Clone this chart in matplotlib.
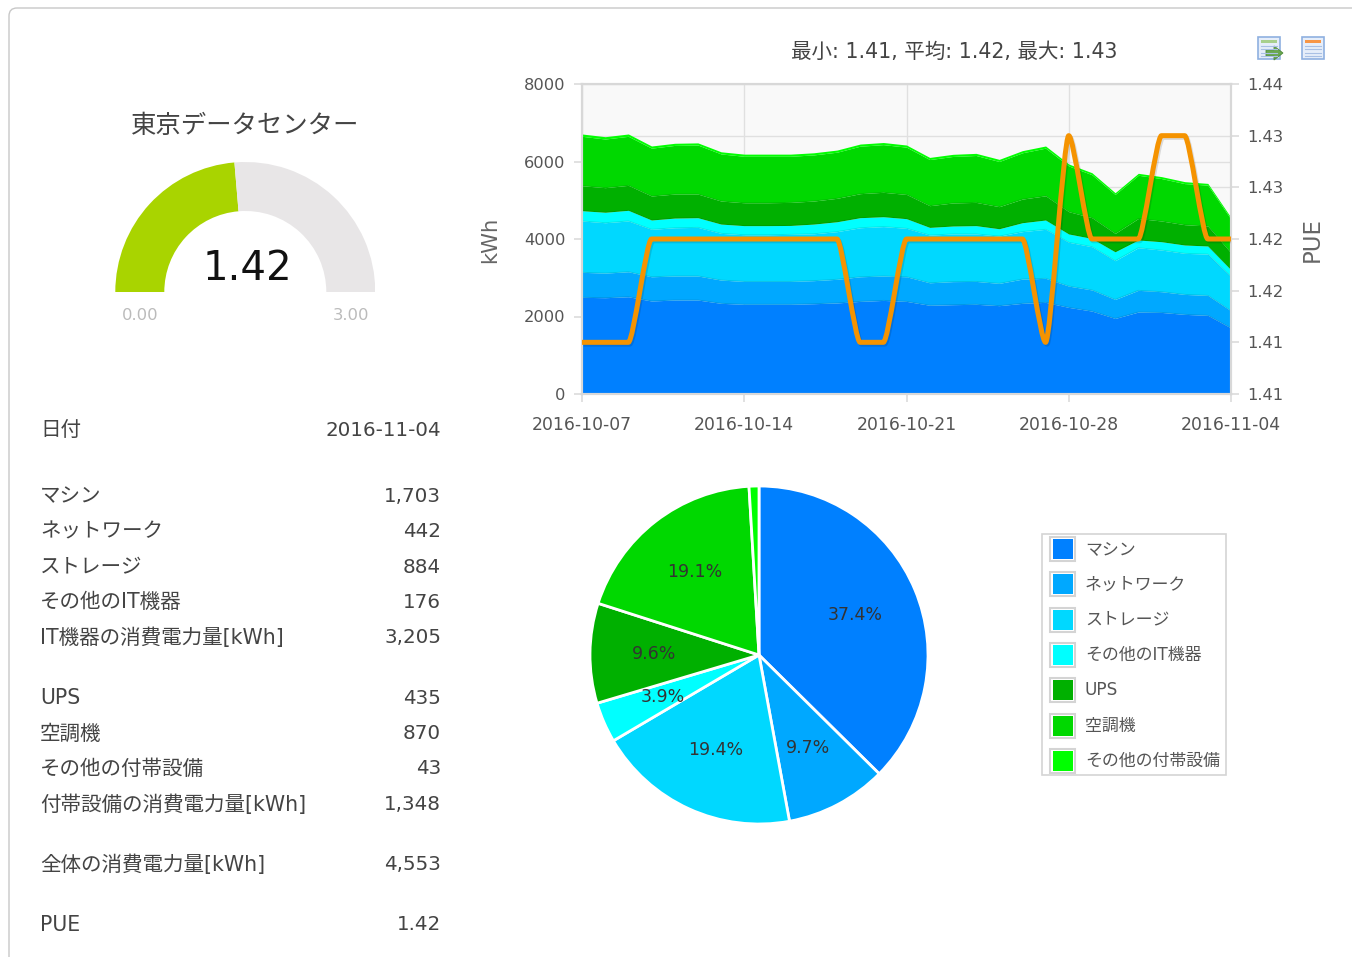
import numpy as np
import matplotlib

matplotlib.use("Agg")
import matplotlib.pyplot as plt
import matplotlib.patheffects as pe
from matplotlib.path import Path
from matplotlib.patches import FancyBboxPatch, PathPatch, Rectangle, Wedge, Polygon

plt.rcParams["font.family"] = ["DejaVu Sans", "Noto Sans CJK JP"]

# stacked top edge of every band, kWh
machine_top = [2495, 2485, 2510, 2400, 2425, 2425, 2340, 2315, 2315, 2315, 2330, 2350, 2390, 2415, 2390,
               2290, 2305, 2315, 2280, 2340, 2365, 2235, 2140, 1950, 2115, 2105, 2055, 2030, 1703]
network_top = [3140, 3120, 3155, 3025, 3045, 3045, 2940, 2905, 2905, 2905, 2925, 2960, 3025, 3045, 3025,
               2870, 2900, 2905, 2855, 2965, 2985, 2785, 2685, 2440, 2675, 2640, 2570, 2545, 2145]
storage_top = [4465, 4420, 4465, 4250, 4290, 4300, 4145, 4110, 4110, 4120, 4135, 4190, 4290, 4320, 4275,
               4100, 4130, 4130, 4075, 4190, 4250, 3915, 3800, 3440, 3775, 3715, 3630, 3610, 3029]
other_it_top = [4730, 4690, 4740, 4490, 4540, 4550, 4385, 4345, 4345, 4350, 4385, 4445, 4550, 4575, 4525,
                4300, 4335, 4345, 4265, 4420, 4490, 4130, 4015, 3670, 3975, 3930, 3845, 3820, 3205]
ups_top = [5375, 5325, 5385, 5110, 5160, 5160, 4980, 4935, 4935, 4945, 4980, 5050, 5170, 5205, 5150,
           4860, 4930, 4945, 4835, 5030, 5115, 4705, 4550, 4145, 4530, 4465, 4370, 4335, 3640]
aircon_top = [6650, 6580, 6650, 6345, 6415, 6425, 6195, 6135, 6135, 6135, 6170, 6240, 6395, 6435, 6370,
              6050, 6130, 6155, 6000, 6225, 6345, 5885, 5660, 5150, 5645, 5560, 5430, 5390, 4510]
total_top = [6710, 6640, 6710, 6400, 6470, 6480, 6250, 6190, 6190, 6190, 6225, 6295, 6450, 6490, 6425,
             6105, 6185, 6210, 6055, 6280, 6400, 5935, 5710, 5195, 5695, 5610, 5480, 5435, 4553]
pue = [1.41, 1.41, 1.41, 1.42, 1.42, 1.42, 1.42, 1.42, 1.42, 1.42, 1.42, 1.42, 1.41, 1.41, 1.42,
       1.42, 1.42, 1.42, 1.42, 1.42, 1.41, 1.43, 1.42, 1.42, 1.42, 1.43, 1.43, 1.42, 1.42]

date_labels = ["2016-10-07", "2016-10-14", "2016-10-21", "2016-10-28", "2016-11-04"]
kwh_ticks = [0, 2000, 4000, 6000, 8000]
pue_ticks = [1.405, 1.41, 1.415, 1.42, 1.425, 1.43, 1.435]
pue_tick_labels = ["1.41", "1.41", "1.42", "1.42", "1.43", "1.43", "1.44"]

series_names = ["マシン", "ネットワーク", "ストレージ", "その他のIT機器", "UPS", "空調機", "その他の付帯設備"]
series_values = [1703, 442, 884, 176, 435, 870, 43]
series_colors = ["#0080ff", "#00a8ff", "#00d8ff", "#00ffff", "#00b000", "#00d800", "#00ff00"]

table_labels = ["日付", "マシン", "ネットワーク", "ストレージ", "その他のIT機器", "IT機器の消費電力量[kWh]",
                "UPS", "空調機", "その他の付帯設備", "付帯設備の消費電力量[kWh]", "全体の消費電力量[kWh]", "PUE"]
table_values = ["2016-11-04", "1,703", "442", "884", "176", "3,205", "435", "870", "43", "1,348", "4,553", "1.42"]
table_y = [430.5, 496.5, 531.5, 567.5, 602.5, 637.5, 698, 733.5, 768.5, 804.5, 864.5, 925]

gauge_value = 1.42
gauge_min = 0.0
gauge_max = 3.0

W, H = 1352, 957


def px_axes(x0, y0, x1, y1):
    return fig.add_axes([x0 / W, 1 - y1 / H, (x1 - x0) / W, (y1 - y0) / H])


fig = plt.figure(figsize=(W / 100, H / 100), dpi=100, facecolor="white")

# page furniture in pixel coordinates
page = fig.add_axes([0, 0, 1, 1])
page.set_xlim(0, W)
page.set_ylim(H, 0)
page.axis("off")
page.add_patch(FancyBboxPatch((9, 8), 1500, 1100, boxstyle="round,pad=0,rounding_size=8",
                              fc="white", ec="#c8c8c8", lw=1))

page.text(245, 126, "東京データセンター", fontsize=18.3, color="#444444", ha="center", va="center")
page.text(247, 269, f"{gauge_value:.2f}", fontsize=29, color="#111111", ha="center", va="center")
page.text(140, 316, f"{gauge_min:.2f}", fontsize=11.8, color="#bbbbbb", ha="center", va="center")
page.text(351, 316, f"{gauge_max:.2f}", fontsize=11.8, color="#bbbbbb", ha="center", va="center")

for lab, val, y in zip(table_labels, table_values, table_y):
    page.text(40, y, lab, fontsize=14.8, color="#444444", ha="left", va="center")
    page.text(441, y, val, fontsize=14.3, color="#444444", ha="right", va="center")

page.text(954, 52, "最小: 1.41, 平均: 1.42, 最大: 1.43", fontsize=14.8, color="#444444", ha="center", va="center")
page.text(490, 240, "kWh", fontsize=15.2, color="#666666", rotation=90, ha="center", va="center")
page.text(1312, 239, "PUE", fontsize=16.5, color="#666666", rotation=90, ha="center", va="center")

# the two toolbar icons
for ix, head in [(1258, "#a8d08d"), (1302, "#f79646")]:
    page.add_patch(Rectangle((ix, 37), 22, 22, fc="#e6eefa", ec="#8fb0e0", lw=1.2))
    page.add_patch(Rectangle((ix + 3, 40), 16, 3, fc=head, ec="none"))
    for k in range(4):
        page.plot([ix + 3, ix + 19], [46 + k * 3.3] * 2, color="#a9c0e4", lw=0.8)
page.add_patch(Polygon([(1266, 50), (1274, 50), (1274, 46), (1283, 53), (1274, 60), (1274, 56), (1266, 56)],
                       fc="#6aa84f", ec="#4f8a3a", lw=0.6))

# legend
page.add_patch(Rectangle((1042, 534), 184, 241, fc="white", ec="#d4d4d4", lw=1.2))
for i, (name, col) in enumerate(zip(series_names, series_colors)):
    y = 549 + i * 35.3
    page.add_patch(Rectangle((1050, y - 12), 25, 24, fc="white", ec="#d4d4d4", lw=1.5))
    page.add_patch(Rectangle((1052.5, y - 10), 20, 20, fc=col, ec="none"))
    page.text(1085, y, name, fontsize=12.2, color="#555555", ha="left", va="center")

# gauge
ax_g = px_axes(245.3 - 130, 162, 245.3 + 130, 292)
ax_g.set_xlim(-1, 1)
ax_g.set_ylim(0, 1)
ax_g.axis("off")
split = 180 * (1 - (gauge_value - gauge_min) / (gauge_max - gauge_min))
ax_g.add_patch(Wedge((0, 0), 1, split, 180, width=49 / 130, fc="#a9d400", ec="none"))
ax_g.add_patch(Wedge((0, 0), 1, 0, split, width=49 / 130, fc="#e8e6e7", ec="none"))

# stacked area + PUE line
ax = px_axes(582, 84, 1231, 394)
days = np.arange(len(total_top))
edges = [np.zeros(len(days))] + [np.array(e) for e in
         (machine_top, network_top, storage_top, other_it_top, ups_top, aircon_top, total_top)]
for i, col in enumerate(series_colors):
    ax.fill_between(days, edges[i], edges[i + 1], color=col, lw=0, zorder=2)
    if i < 5:
        ax.plot(days, edges[i + 1], color="black", alpha=0.1, lw=0.7, zorder=3)

ax.set_xlim(0, days[-1])
ax.set_ylim(0, 8000)
ax.set_facecolor("#f9f9f9")
ax.set_xticks(days[::7])
ax.set_xticklabels(date_labels)
ax.set_yticks(kwh_ticks)
# PUE ticks also draw grid lines, but behind the areas
pue_lo, pue_hi = pue_ticks[0], pue_ticks[0] + 0.03
ax.set_yticks([(p - pue_lo) / (pue_hi - pue_lo) * 8000 for p in pue_ticks], minor=True)
ax.grid(True, which="both", color="#e0e0e0", lw=1)
ax.set_axisbelow(True)
ax.tick_params(axis="both", which="major", length=6, width=1.1, color="#d8d8d8", labelsize=11.7, labelcolor="#555555")
ax.tick_params(axis="y", which="minor", length=0)
ax.tick_params(axis="x", pad=9.5, labelsize=12.4)
ax.tick_params(axis="y", pad=6)

ax2 = ax.twinx()
ax2.set_ylim(pue_lo, pue_hi)
ax2.set_yticks(pue_ticks)
ax2.set_yticklabels(pue_tick_labels)
ax2.tick_params(axis="y", length=6, width=1.1, color="#d8d8d8", labelsize=11.8, labelcolor="#555555", pad=6)

verts = [(days[0], pue[0])]
codes = [Path.MOVETO]
for i in range(len(days) - 1):
    dx = days[i + 1] - days[i]
    verts += [(days[i] + 0.22 * dx, pue[i]), (days[i + 1] - 0.22 * dx, pue[i + 1]), (days[i + 1], pue[i + 1])]
    codes += [Path.CURVE4] * 3
ax2.add_patch(PathPatch(Path(verts, codes), fill=False, ec="#f59300", lw=3.6, capstyle="butt", joinstyle="round",
                        path_effects=[pe.SimpleLineShadow(offset=(1.0, -1.3), alpha=0.12, shadow_color="black"),
                                      pe.Normal()], zorder=5))

for a in (ax, ax2):
    for s in a.spines.values():
        s.set_color("#d8d8d8")
        s.set_linewidth(1.5)

# pie
ax_p = px_axes(759 - 169, 655 - 169, 759 + 169, 655 + 169)
wedges, texts, pct = ax_p.pie(series_values, colors=series_colors, startangle=90, counterclock=False, radius=1,
                              autopct=lambda p: f"{p:.1f}%" if p > 2 else "", pctdistance=0.62,
                              wedgeprops={"edgecolor": "white", "linewidth": 2},
                              textprops={"fontsize": 12.5, "color": "#333333"})
ax_p.set_xlim(-1, 1)
ax_p.set_ylim(-1, 1)
for w in wedges:
    w.set_clip_on(False)

fig.savefig("out.png", dpi=100)
